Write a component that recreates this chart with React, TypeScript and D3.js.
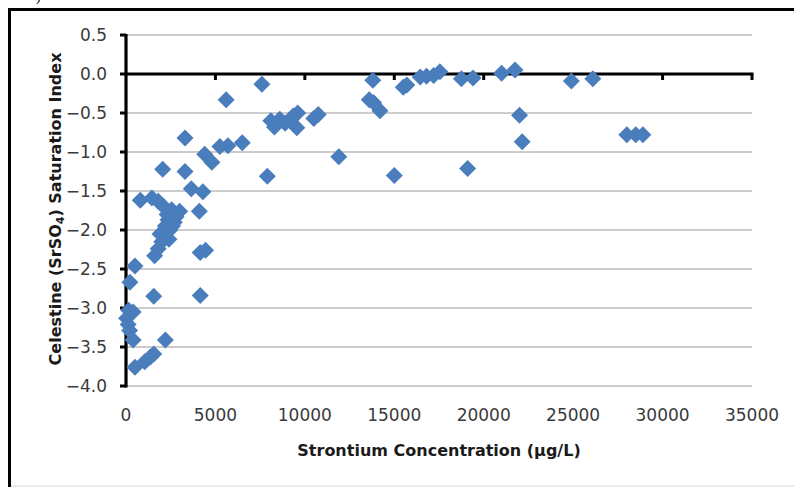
import React from "react";
import * as d3 from "d3";

const strontium: number[] = [
  7600, 5600, 3300, 4400, 4800, 5250, 5700, 6500, 3300, 3650,
  4300, 7900, 8100, 8300, 8600, 8900, 9600, 9350, 9550, 10750,
  10500, 11900, 13800, 13600, 13850, 14200, 15000, 15500, 15700, 16450,
  16800, 17200, 17550, 18750, 19400, 19100, 21000, 21750, 22000, 22150,
  24900, 26100, 28000, 28500, 28900, 2050, 4100, 800, 1450, 1800,
  2100, 2550, 3000, 2800, 2350, 2200, 2450, 2150, 2000, 1800,
  1600, 4150, 4450, 500, 220, 1550, 4150, 150, 400, 30,
  120, 200, 400, 2200, 500, 1050, 1350, 1550, 2300, 2600,
  2400, 1900, 2700,
];
const saturation: number[] = [
  -0.13, -0.33, -0.82, -1.03, -1.13, -0.93, -0.92, -0.88, -1.25, -1.47,
  -1.51, -1.31, -0.6, -0.68, -0.58, -0.63, -0.5, -0.54, -0.69, -0.52,
  -0.57, -1.06, -0.08, -0.33, -0.37, -0.47, -1.3, -0.17, -0.14, -0.04,
  -0.03, -0.02, 0.03, -0.06, -0.05, -1.21, 0.01, 0.05, -0.53, -0.87,
  -0.09, -0.06, -0.78, -0.78, -0.78, -1.22, -1.76, -1.62, -1.59, -1.63,
  -1.7, -1.74, -1.76, -1.83, -1.87, -1.95, -2.0, -2.08, -2.15, -2.24,
  -2.33, -2.29, -2.26, -2.46, -2.67, -2.85, -2.84, -3.03, -3.05, -3.13,
  -3.21, -3.29, -3.41, -3.41, -3.76, -3.69, -3.63, -3.59, -1.8, -1.95,
  -2.12, -2.05, -1.9,
];
const xTicks: number[] = [0, 5000, 10000, 15000, 20000, 25000, 30000, 35000];
const yTicks: number[] = [0.5, 0.0, -0.5, -1.0, -1.5, -2.0, -2.5, -3.0, -3.5, -4.0];

export default function App() {
  const W = 794;
  const H = 487;
  const x = d3.scaleLinear().domain([0, 35000]).range([126, 752]);
  const y = d3.scaleLinear().domain([-4, 0.5]).range([386, 35]);
  const r = 8.5;
  const diamond = `M0,${-r}L${r},0L0,${r}L${-r},0Z`;
  const font = "'DejaVu Sans', sans-serif";
  const points = strontium.map((v, i) => ({ x: v, y: saturation[i] }));

  return (
    <svg
      width={W}
      height={H}
      style={{ position: "absolute", left: 0, top: 0, background: "#fff" }}
    >
      <rect x={0} y={0} width={W} height={H} fill="#fff" />
      <text x={36} y={1} fontFamily="'Liberation Serif', serif" fontSize={14} fill="#000">)</text>
      <rect x={9.5} y={9.5} width={W + 20} height={H + 20} fill="none" stroke="#000" strokeWidth={3} />
      <line x1={11} x2={W} y1={486} y2={486} stroke="#d8d8d8" strokeWidth={1} />

      {yTicks.filter((t) => t !== 0).map((t) => (
        <line key={"g" + t} x1={x(0)} x2={x(35000)} y1={y(t)} y2={y(t)} stroke="#9a9a9a" strokeWidth={1.2} />
      ))}

      {/* y axis */}
      <line x1={x(0)} x2={x(0)} y1={y(0.5) - 1} y2={y(-4) + 1.5} stroke="#000" strokeWidth={3.2} />
      {yTicks.map((t) => (
        <line key={"yt" + t} x1={x(0) - 6} x2={x(0)} y1={y(t)} y2={y(t)} stroke="#000" strokeWidth={3} />
      ))}
      {yTicks.map((t) => (
        <text
          key={"yl" + t}
          x={107}
          y={y(t)}
          dy="0.36em"
          textAnchor="end"
          fontFamily={font}
          fontSize={17}
          fill="#3a3a3a"
        >
          {d3.format(".1f")(t)}
        </text>
      ))}

      {/* x axis at y = 0 */}
      <line x1={x(0)} x2={x(35000) + 1.5} y1={y(0)} y2={y(0)} stroke="#000" strokeWidth={3.2} />
      {xTicks.filter((t) => t !== 0).map((t) => (
        <line key={"xt" + t} x1={x(t)} x2={x(t)} y1={y(0)} y2={y(0) + 6} stroke="#000" strokeWidth={3} />
      ))}
      {xTicks.map((t) => (
        <text
          key={"xl" + t}
          x={x(t)}
          y={421}
          textAnchor="middle"
          fontFamily={font}
          fontSize={17}
          fill="#3a3a3a"
        >
          {t}
        </text>
      ))}

      <text x={439} y={456} textAnchor="middle" fontFamily={font} fontWeight="bold" fontSize={16} fill="#1a1a1a">
        Strontium Concentration (µg/L)
      </text>
      <text
        transform="translate(61,209) rotate(-90)"
        textAnchor="middle"
        fontFamily={font}
        fontWeight="bold"
        fontSize={16}
        fill="#1a1a1a"
      >
        Celestine (SrSO
        <tspan fontSize={11} dy={3}>4</tspan>
        <tspan dy={-3}>) Saturation Index</tspan>
      </text>

      {points.map((p, i) => (
        <path key={"p" + i} d={diamond} transform={`translate(${x(p.x)},${y(p.y)})`} fill="#4a7dbb" />
      ))}
    </svg>
  );
}
